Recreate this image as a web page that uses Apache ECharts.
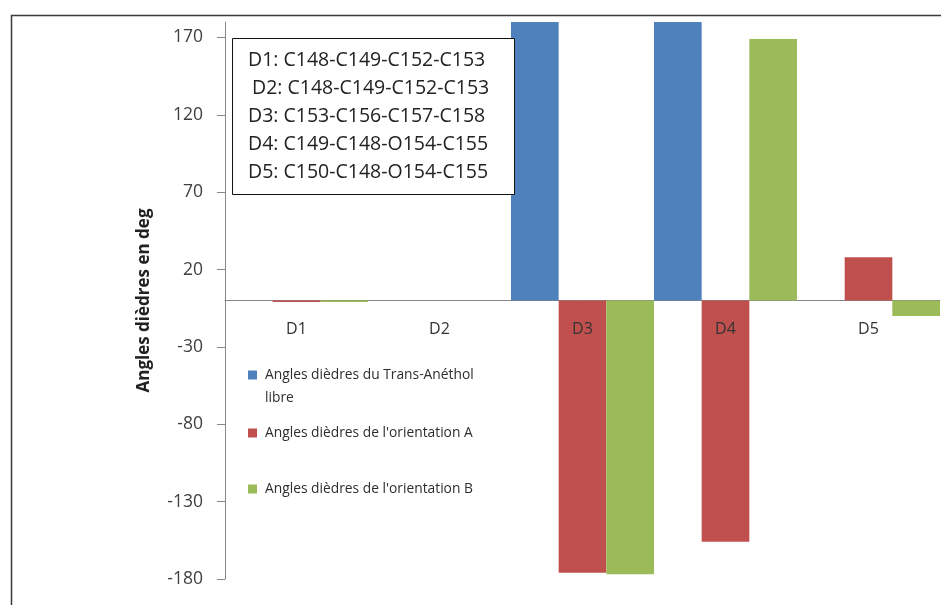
<!DOCTYPE html>
<html>
<head>
<meta charset="utf-8">
<title>Angles dièdres</title>
<script src="https://cdn.jsdelivr.net/npm/echarts@6/dist/echarts.min.js"></script>
<style>
  html, body { margin: 0; padding: 0; background: #fff; }
  #chart { width: 941px; height: 605px; }
</style>
</head>
<body>
<div id="chart"></div>
<script>
// Dihedral angles (degrees) per dihedral D1..D5
const categories = ['D1', 'D2', 'D3', 'D4', 'D5'];
const transAnethol = [0, 0, 180, 180, 0];
const orientationA = [-1, 0, -176, -156, 28];
const orientationB = [-1, 0, -177, 169, -10];
const yTicks = [-180, -130, -80, -30, 20, 70, 120, 170];

const seriesNames = [
  'Angles dièdres du Trans-Anéthol libre',
  "Angles dièdres de l'orientation A",
  "Angles dièdres de l'orientation B"
];
const colors = ['#4F81BD', '#C0504D', '#9BBB59'];

const dihedralDefs = [
  'D1: C148-C149-C152-C153',
  'D2: C148-C149-C152-C153',
  'D3: C153-C156-C157-C158',
  'D4: C149-C148-O154-C155',
  'D5: C150-C148-O154-C155'
];

const font = '"Open Sans", "Liberation Sans", sans-serif';

// grid geometry: value range -180..180
const gridTop = 22, gridBottom = 26, chartHeight = 605;
const yMin = -180, yMax = 180;
const plotHeight = chartHeight - gridTop - gridBottom;
// distance from the bottom edge of the plot up to the zero line
const zeroLift = plotHeight * (0 - yMin) / (yMax - yMin);

// square sitting on the first line of a two-line legend entry
const topSquareIcon = 'path://M0,0L0.01,0L0.01,0.01Z M0,7L9,7L9,16L0,16Z M0,46L0.01,46L0.01,45.99Z';

const legendText = {
  fontFamily: font, fontSize: 13.8, color: '#2e2e2e', lineHeight: 23, padding: [0, 0, 0, 3]
};

const chart = echarts.init(document.getElementById('chart'), null, { renderer: 'canvas' });

const boxLines = dihedralDefs.map((t, i) => ({
  type: 'text',
  x: i === 1 ? 252 : 248,
  y: 60 + i * 28,
  z: 101,
  style: { text: t, font: '19.5px ' + font, fill: '#222', verticalAlign: 'middle' }
}));

chart.setOption({
  animation: false,
  backgroundColor: '#fff',
  grid: { left: 225, right: 1, top: gridTop, bottom: gridBottom, containLabel: false, outerBoundsMode: 'none' },
  xAxis: [
    {
      type: 'category',
      data: categories,
      axisLine: { onZero: true, lineStyle: { color: '#868686', width: 1 } },
      axisTick: { show: false },
      axisLabel: { show: false },
      splitLine: { show: false }
    },
    {
      // category labels sitting just under the zero line
      type: 'category',
      data: categories,
      position: 'bottom',
      offset: -zeroLift,
      z: 10,
      axisLine: { show: false, onZero: false },
      axisTick: { show: false },
      axisLabel: { margin: 21, fontFamily: font, fontSize: 16, color: '#333' },
      splitLine: { show: false }
    }
  ],
  yAxis: {
    type: 'value',
    min: yMin,
    max: yMax,
    interval: 50,
    axisLine: { show: true, lineStyle: { color: '#868686', width: 1 } },
    axisTick: { show: true, length: 8, customValues: yTicks, lineStyle: { color: '#868686' } },
    axisLabel: { customValues: yTicks, margin: 22, fontFamily: font, fontSize: 17.5, color: '#404040' },
    splitLine: { show: false },
    name: 'Angles dièdres en deg',
    nameLocation: 'middle',
    nameRotate: 90,
    nameGap: 72,
    nameTextStyle: { fontFamily: font, fontWeight: 'bold', fontSize: 17, color: '#222' }
  },
  legend: [
    {
      data: [{ name: seriesNames[0], icon: topSquareIcon }],
      left: 248, top: 363.5, padding: 0,
      itemWidth: 9, itemHeight: 46,
      formatter: () => 'Angles dièdres du Trans-Anéthol\nlibre',
      textStyle: legendText
    },
    {
      data: [{ name: seriesNames[1], icon: 'rect' }],
      left: 248, top: 421.5, padding: 0,
      itemWidth: 9, itemHeight: 9,
      textStyle: legendText
    },
    {
      data: [{ name: seriesNames[2], icon: 'rect' }],
      left: 248, top: 477.5, padding: 0,
      itemWidth: 9, itemHeight: 9,
      textStyle: legendText
    }
  ],
  series: [
    { name: seriesNames[0], type: 'bar', data: transAnethol, itemStyle: { color: colors[0] },
      barGap: '0%', barCategoryGap: '0%' },
    { name: seriesNames[1], type: 'bar', data: orientationA, itemStyle: { color: colors[1] },
      barGap: '0%', barCategoryGap: '0%' },
    { name: seriesNames[2], type: 'bar', data: orientationB, itemStyle: { color: colors[2] },
      barGap: '0%', barCategoryGap: '0%' }
  ],
  graphic: [
    {
      type: 'rect', left: 9, top: 13, z: 100, silent: true,
      shape: { width: 1000, height: 700 },
      style: { fill: 'none', stroke: '#3a3a3a', lineWidth: 1.5 }
    },
    {
      type: 'rect', left: 232, top: 38, z: 100, silent: true,
      shape: { width: 282, height: 156 },
      style: { fill: '#fff', stroke: '#111', lineWidth: 1 }
    },
    ...boxLines
  ]
});
</script>
</body>
</html>
